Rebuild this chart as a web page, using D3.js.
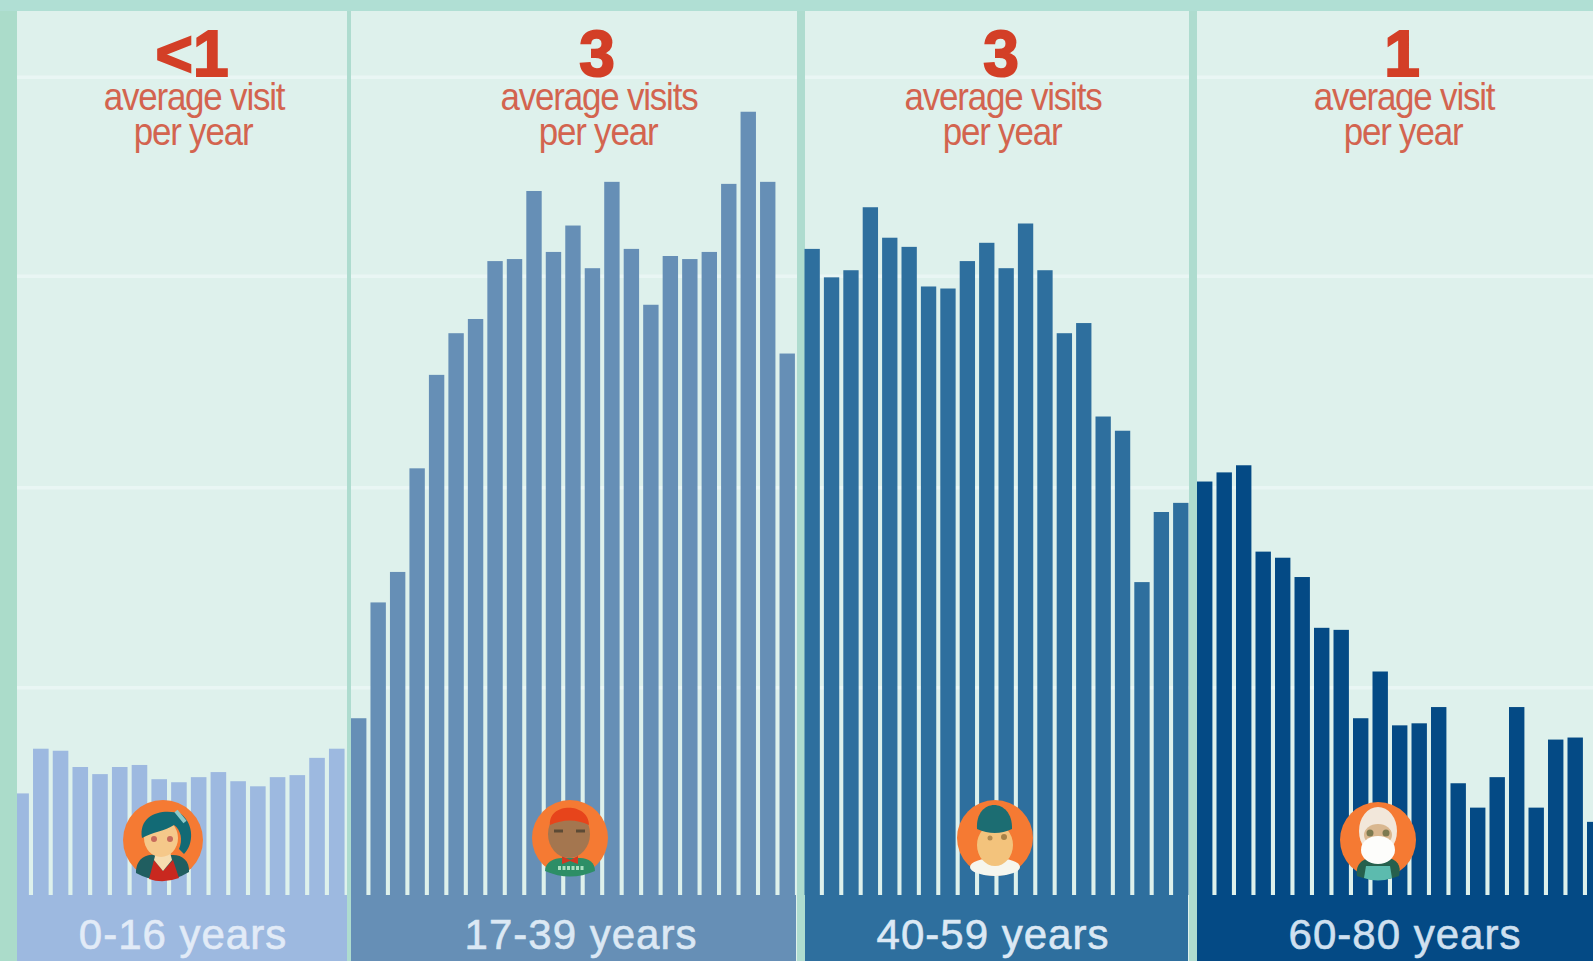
<!DOCTYPE html>
<html>
<head>
<meta charset="utf-8">
<script src="https://cdn.jsdelivr.net/npm/d3@7/dist/d3.min.js"></script>
<style>
  html, body { margin: 0; padding: 0; background: #b0dfd4; overflow: hidden; }
  svg { display: block; font-family: "Liberation Sans", Arial, sans-serif; }
</style>
</head>
<body>
<svg id="chart" width="1593" height="961"></svg>
<script>
// Visits by single year of age, split into the four life stages
const child = [100,144,142,126,119,126,128,114,111,116,121,112,107,116,118,135,144];
const young = [174,288,318,420,512,553,567,624,626,693,633,659,617,702,636,581,629,626,633,700,771,702,533];
const middle = [636,608,615,677,647,638,599,597,624,642,617,661,615,553,563,471,457,308,377,386];
const senior = [407,416,423,338,332,313,263,261,174,220,167,169,185,110,86,116,185,86,153,155,72];

const stageLabels = ["0-16 years", "17-39 years", "40-59 years", "60-80 years"];
const stageVisits = ["<1", "3", "3", "1"];
const stageUnits = ["average visit", "average visits", "average visits", "average visit"];
const stageColors = ["#9db9e0", "#668fb6", "#2e6f9e", "#044a85"];
const gridValues = [204, 401, 609, 805];

const W = 1593, H = 961, base = 895;
const panelLeft = 16, panelTop = 11;
const stages = [child, young, middle, senior];

// Each stage has its own horizontal extent; the bars of a stage share one band scale
const stageRanges = [[13.3, 348.7], [351, 799], [804.5, 1192.5], [1197, 1606.5]];
const bandEdges = [[17, 347], [351, 796], [805, 1188], [1197, 1593]];
const y = d3.scaleLinear().domain([0, 881]).range([base, 0]);

const svg = d3.select("#chart");

svg.append("rect").attr("width", W).attr("height", H).attr("fill", "#b0dfd4");
svg.append("rect").attr("x", panelLeft).attr("y", panelTop)
  .attr("width", W - panelLeft).attr("height", H - panelTop).attr("fill", "#def1ec");

// Horizontal guides
svg.append("g").selectAll("line").data(gridValues).join("line")
  .attr("x1", panelLeft).attr("x2", W)
  .attr("y1", d => y(d)).attr("y2", d => y(d))
  .attr("stroke", "#e9f6f4").attr("stroke-width", 3.5);

// Dividers between stages
const dividers = [[347, 351], [797, 805], [1189, 1197]];
svg.append("g").selectAll("rect").data(dividers).join("rect")
  .attr("x", d => d[0]).attr("y", panelTop)
  .attr("width", d => d[1] - d[0]).attr("height", H - panelTop)
  .attr("fill", "#aedccf");

// Bars and the label band beneath each stage
const stageGroups = svg.append("g").selectAll("g")
  .data(stages.map((values, i) => ({ i, values })))
  .join("g");

stageGroups.each(function (stage) {
  const x = d3.scaleBand().domain(d3.range(stage.values.length)).range(stageRanges[stage.i]);
  const g = d3.select(this);
  g.selectAll("rect.bar").data(stage.values).join("rect").attr("class", "bar")
    .attr("x", (d, k) => x(k))
    .attr("y", d => y(d))
    .attr("width", x.bandwidth() * 0.79)
    .attr("height", d => base - y(d))
    .attr("fill", stageColors[stage.i]);
  g.append("rect")
    .attr("x", bandEdges[stage.i][0]).attr("y", base)
    .attr("width", bandEdges[stage.i][1] - bandEdges[stage.i][0])
    .attr("height", H - base)
    .attr("fill", stageColors[stage.i]);
});

// Left edge strip sits over the first bar
svg.append("rect").attr("width", panelLeft + 1).attr("height", H).attr("fill", "#abdcca");
svg.append("rect").attr("width", W).attr("height", panelTop).attr("fill", "#b0dfd4");

// Captions
const labelX = [183, 581, 993, 1405];
const headX = [192, 597, 1001, 1402];
const labelFill = ["#e2ebf7", "#dbe8f4", "#dbe8f4", "#cfe0f0"];

const text = svg.append("g").attr("text-anchor", "middle");
text.selectAll("text.big").data(stageVisits).join("text").attr("class", "big")
  .attr("x", (d, i) => headX[i]).attr("y", 76)
  .attr("font-size", 64).attr("font-weight", 700).attr("fill", "#d33f27")
  .attr("stroke", "#d33f27").attr("stroke-width", 2).text(d => d);
text.selectAll("text.unit").data(stageUnits).join("text").attr("class", "unit")
  .attr("transform", (d, i) => `translate(${headX[i] + 2},110) scale(0.92,1)`)
  .attr("font-size", 38).attr("letter-spacing", "-1.3").attr("fill", "#d3644f").text(d => d);
text.selectAll("text.per").data(stageUnits).join("text").attr("class", "per")
  .attr("transform", (d, i) => `translate(${headX[i] + 1},145) scale(0.92,1)`)
  .attr("font-size", 38).attr("letter-spacing", "-1.3").attr("fill", "#d3644f").text("per year");
text.selectAll("text.age").data(stageLabels).join("text").attr("class", "age")
  .attr("x", (d, i) => labelX[i]).attr("y", 949)
  .attr("font-size", 42).attr("letter-spacing", "1").attr("fill", (d, i) => labelFill[i])
  .attr("stroke", (d, i) => labelFill[i]).attr("stroke-width", 0.6).text(d => d);

// Portrait badges, each centred on its own origin
const portraits = [
  { cx: 163, cy: 840, r: 40, parts: [
    ["path", { d: "M-27,33 C-27,18 -16,14 -8,15 L8,15 C18,14 27,20 26,32 Q0,48 -27,33Z", fill: "#205e60" }],
    ["path", { d: "M-14,39 L-9,20 L0,31 L10,20 L16,38 Q0,44 -14,39Z", fill: "#c9281f" }],
    ["path", { d: "M-7,12 L7,12 L9,20 L0,31 L-9,20Z", fill: "#f6dcb0" }],
    ["ellipse", { cx: -2, cy: -2, rx: 17, ry: 19, fill: "#f5c88a" }],
    ["path", { d: "M-21,-2 C-25,-27 2,-32 18,-26 C31,-16 31,4 21,14 L16,9 C20,0 18,-10 11,-15 C2,-9 -10,-8 -21,-2Z", fill: "#126a75" }],
    ["line", { x1: 13, y1: -29, x2: 22, y2: -18, stroke: "#8cc9c9", "stroke-width": 4 }],
    ["circle", { cx: -9, cy: -1, r: 3, fill: "#c76a5c" }],
    ["circle", { cx: 7, cy: -1, r: 3, fill: "#c76a5c" }]
  ]},
  { cx: 570, cy: 838, r: 38, parts: [
    ["path", { d: "M-25,33 C-25,24 -16,20 -8,20 L10,20 C19,20 25,25 25,33 Q0,44 -25,33Z", fill: "#2d8e66" }],
    ["line", { x1: -12, y1: 30, x2: 14, y2: 30, stroke: "#a9e0c0", "stroke-width": 4, "stroke-dasharray": "3 1.5" }],
    ["path", { d: "M-8,18 L0,22 L8,18 L8,26 L0,23 L-8,26Z", fill: "#d23a22" }],
    ["ellipse", { cx: -1, cy: -4, rx: 21, ry: 24, fill: "#a4764f" }],
    ["path", { d: "M-20,-13 C-22,-36 19,-36 19,-13 Q0,-22 -20,-13Z", fill: "#e7441b" }],
    ["line", { x1: -16, y1: -7, x2: -7, y2: -7, stroke: "#5c4a35", "stroke-width": 3 }],
    ["line", { x1: 6, y1: -7, x2: 15, y2: -7, stroke: "#5c4a35", "stroke-width": 3 }]
  ]},
  { cx: 995, cy: 838, r: 38, parts: [
    ["ellipse", { cx: 0, cy: 29, rx: 25, ry: 9, fill: "#f6f6ee" }],
    ["ellipse", { cx: 0, cy: 7, rx: 18, ry: 21, fill: "#f3c37c" }],
    ["path", { d: "M-18,-9 C-20,-41 18,-41 17,-9 Q0,-1 -18,-9Z", fill: "#1c6d72" }],
    ["circle", { cx: -5, cy: 0, r: 2.5, fill: "#b08a50" }],
    ["circle", { cx: 9, cy: -1, r: 3, fill: "#a98247" }]
  ]},
  { cx: 1378, cy: 840, r: 38, parts: [
    ["path", { d: "M-21,36 C-23,24 -15,19 -8,18 L10,18 C18,19 24,25 21,36 Q0,44 -21,36Z", fill: "#26604d" }],
    ["path", { d: "M-12,26 L12,26 L14,38 Q0,43 -14,38Z", fill: "#5cbbae" }],
    ["ellipse", { cx: 0, cy: -9, rx: 19, ry: 24, fill: "#f2e7da" }],
    ["ellipse", { cx: 0, cy: -5, rx: 14, ry: 11, fill: "#d9b78f" }],
    ["ellipse", { cx: 0, cy: 10, rx: 17, ry: 14, fill: "#fdfdfb" }],
    ["circle", { cx: -8, cy: -7, r: 3.5, fill: "#7d7a50" }],
    ["circle", { cx: 8, cy: -7, r: 3.5, fill: "#7d7a50" }]
  ]}
];
const badge = svg.append("g").selectAll("g").data(portraits).join("g")
  .attr("transform", d => `translate(${d.cx},${d.cy})`);
badge.append("circle").attr("r", d => d.r).attr("fill", "#f57a33");
badge.each(function (d) {
  const g = d3.select(this);
  d.parts.forEach(([tag, attrs]) => {
    const el = g.append(tag);
    Object.entries(attrs).forEach(([k, v]) => el.attr(k, v));
  });
});
</script>
</body>
</html>
